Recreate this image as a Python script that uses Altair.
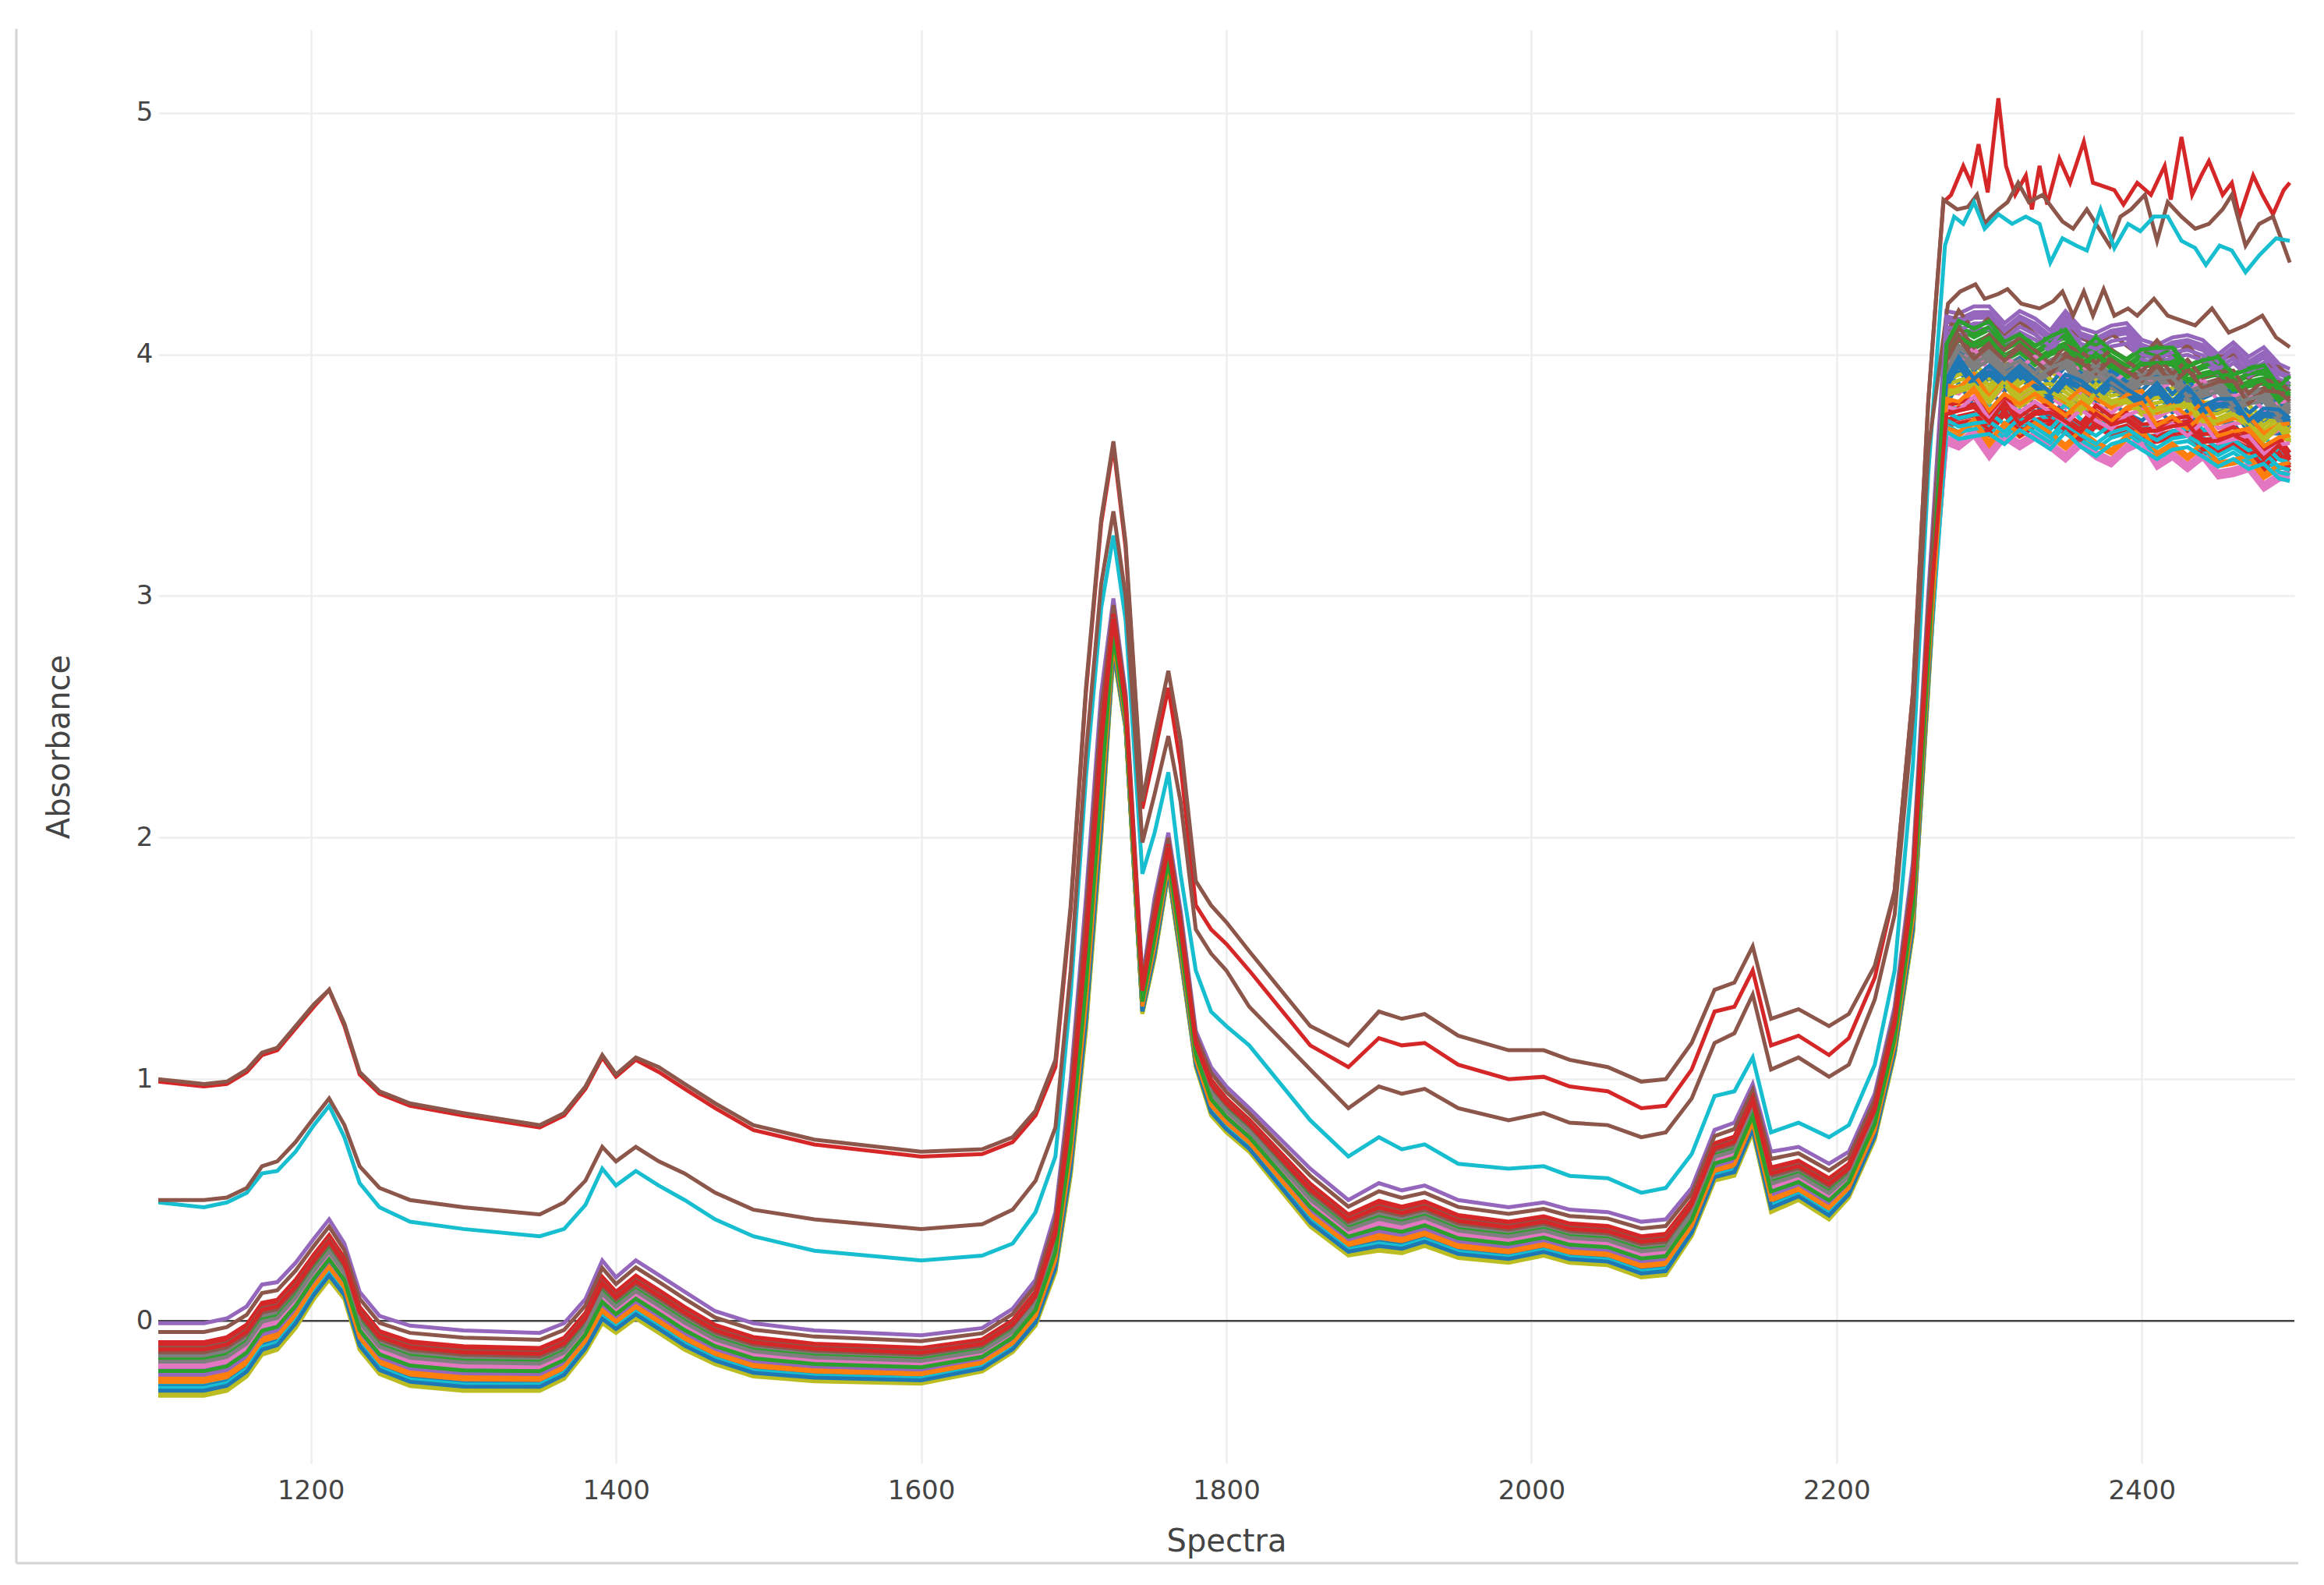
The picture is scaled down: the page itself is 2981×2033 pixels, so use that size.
import altair as alt
import pandas as pd

# ---------------- data ----------------
wl_low = [1100, 1130, 1145, 1158, 1168, 1178, 1190, 1202, 1212, 1222,
          1232, 1245, 1265, 1300, 1350, 1366, 1380, 1391, 1400, 1413,
          1428, 1445, 1465, 1490, 1530, 1600, 1640, 1660, 1675, 1688,
          1698, 1708, 1718, 1726, 1734, 1745, 1753, 1762, 1770, 1780,
          1790, 1800, 1815, 1855, 1880, 1900, 1915, 1930, 1952, 1985,
          2008, 2025, 2050, 2072, 2088, 2105, 2120, 2133, 2145, 2157,
          2175, 2195, 2208, 2225, 2238, 2250, 2260]

red_low = [0.99, 0.97, 0.98, 1.03, 1.10, 1.12, 1.21, 1.30, 1.37, 1.22,
           1.02, 0.94, 0.89, 0.85, 0.80, 0.85, 0.96, 1.09, 1.01, 1.08,
           1.03, 0.96, 0.88, 0.79, 0.73, 0.68, 0.69, 0.74, 0.85, 1.05,
           1.70, 2.60, 3.30, 3.62, 3.20, 2.12, 2.35, 2.62, 2.30, 1.72,
           1.62, 1.56, 1.45, 1.14, 1.05, 1.17, 1.14, 1.15, 1.06, 1.00,
           1.01, 0.97, 0.95, 0.88, 0.89, 1.04, 1.28, 1.30, 1.45, 1.14,
           1.18, 1.10, 1.17, 1.42, 1.78, 2.60, 3.80]

brown_top_low = [1.00, 0.98, 0.99, 1.04, 1.11, 1.13, 1.22, 1.31, 1.37, 1.23,
                 1.03, 0.95, 0.90, 0.86, 0.81, 0.86, 0.97, 1.10, 1.02, 1.09,
                 1.05, 0.98, 0.90, 0.81, 0.75, 0.70, 0.71, 0.76, 0.87, 1.08,
                 1.72, 2.62, 3.32, 3.64, 3.22, 2.15, 2.42, 2.69, 2.40, 1.82,
                 1.72, 1.65, 1.53, 1.22, 1.14, 1.28, 1.25, 1.27, 1.18, 1.12,
                 1.12, 1.08, 1.05, 0.99, 1.00, 1.15, 1.37, 1.40, 1.55, 1.25,
                 1.29, 1.22, 1.27, 1.47, 1.78, 2.60, 3.80]

brown_mid_low = [0.50, 0.50, 0.51, 0.55, 0.64, 0.66, 0.74, 0.84, 0.92, 0.81,
                 0.64, 0.55, 0.50, 0.47, 0.44, 0.49, 0.58, 0.72, 0.66, 0.72,
                 0.66, 0.61, 0.53, 0.46, 0.42, 0.38, 0.40, 0.46, 0.58, 0.80,
                 1.45, 2.35, 3.05, 3.35, 3.00, 1.98, 2.18, 2.42, 2.15, 1.62,
                 1.52, 1.45, 1.30, 1.04, 0.88, 0.97, 0.94, 0.96, 0.88, 0.83,
                 0.86, 0.82, 0.81, 0.76, 0.78, 0.92, 1.15, 1.19, 1.35, 1.04,
                 1.09, 1.01, 1.06, 1.33, 1.68, 2.50, 3.60]

cyan_low = [0.49, 0.47, 0.49, 0.53, 0.61, 0.62, 0.70, 0.81, 0.89, 0.76,
            0.57, 0.47, 0.41, 0.38, 0.35, 0.38, 0.48, 0.63, 0.56, 0.62,
            0.56, 0.50, 0.42, 0.35, 0.29, 0.25, 0.27, 0.32, 0.45, 0.68,
            1.35, 2.25, 2.95, 3.25, 2.90, 1.85, 2.02, 2.27, 1.85, 1.45,
            1.28, 1.22, 1.14, 0.83, 0.68, 0.76, 0.71, 0.73, 0.65, 0.63,
            0.64, 0.60, 0.59, 0.53, 0.55, 0.69, 0.93, 0.95, 1.09, 0.78,
            0.82, 0.76, 0.81, 1.06, 1.45, 2.30, 3.50]

bundle_top_low = [-0.01, -0.01, 0.01, 0.06, 0.15, 0.16, 0.24, 0.34, 0.42, 0.32,
                  0.12, 0.02, -0.02, -0.04, -0.05, -0.01, 0.09, 0.25, 0.18, 0.25,
                  0.19, 0.12, 0.04, -0.01, -0.04, -0.06, -0.03, 0.05, 0.17, 0.45,
                  1.00, 1.75, 2.60, 2.99, 2.60, 1.42, 1.75, 2.02, 1.70, 1.20,
                  1.05, 0.97, 0.88, 0.63, 0.50, 0.57, 0.54, 0.56, 0.50, 0.47,
                  0.49, 0.46, 0.45, 0.41, 0.42, 0.55, 0.79, 0.82, 0.98, 0.70,
                  0.72, 0.65, 0.70, 0.94, 1.30, 1.90, 3.00]

bundle_bottom_low = [-0.31, -0.31, -0.29, -0.23, -0.14, -0.12, -0.03, 0.09, 0.17, 0.09,
                     -0.12, -0.22, -0.27, -0.29, -0.29, -0.24, -0.13, -0.01, -0.05, 0.01,
                     -0.05, -0.12, -0.18, -0.23, -0.25, -0.26, -0.21, -0.13, -0.02, 0.20,
                     0.60, 1.20, 2.00, 2.76, 2.45, 1.27, 1.50, 1.85, 1.50, 1.05,
                     0.85, 0.78, 0.70, 0.39, 0.27, 0.29, 0.28, 0.31, 0.26, 0.24,
                     0.27, 0.24, 0.23, 0.18, 0.19, 0.35, 0.58, 0.60, 0.78, 0.45,
                     0.50, 0.42, 0.51, 0.75, 1.10, 1.60, 2.60]

# plateau (2270-2500) of the outlying spectra
red_px = [2270, 2275, 2283, 2288, 2293, 2299, 2306, 2311, 2317, 2324,
          2328, 2333, 2338, 2346, 2353, 2362, 2368, 2373, 2382, 2388,
          2397, 2406, 2415, 2419, 2426, 2433, 2439, 2444, 2453, 2459,
          2464, 2473, 2479, 2486, 2493, 2497]
red_py = [4.63, 4.66, 4.78, 4.71, 4.87, 4.67, 5.06, 4.78, 4.66, 4.74,
          4.60, 4.78, 4.62, 4.81, 4.71, 4.88, 4.71, 4.70, 4.68, 4.62,
          4.71, 4.66, 4.78, 4.64, 4.90, 4.66, 4.74, 4.80, 4.66, 4.71,
          4.57, 4.74, 4.66, 4.58, 4.68, 4.71]

brown_top_px = [2270, 2279, 2286, 2292, 2297, 2301, 2306, 2312, 2319, 2326,
                2335, 2342, 2348, 2355, 2364, 2370, 2379, 2386, 2393, 2402,
                2410, 2417, 2426, 2435, 2444, 2453, 2459, 2468, 2477, 2486,
                2493, 2497]
brown_top_py = [4.64, 4.60, 4.61, 4.66, 4.54, 4.57, 4.60, 4.63, 4.71, 4.63,
                4.66, 4.60, 4.55, 4.52, 4.60, 4.54, 4.45, 4.57, 4.60, 4.66,
                4.47, 4.63, 4.57, 4.52, 4.54, 4.60, 4.66, 4.45, 4.54, 4.57,
                4.45, 4.38]

cyan_px = [2271, 2277, 2283, 2290, 2297, 2306, 2315, 2324, 2333, 2340,
           2348, 2357, 2364, 2373, 2382, 2391, 2399, 2408, 2417, 2426,
           2435, 2442, 2451, 2459, 2468, 2477, 2488, 2497]
cyan_py = [4.45, 4.57, 4.54, 4.63, 4.52, 4.58, 4.54, 4.57, 4.54, 4.38,
           4.48, 4.45, 4.43, 4.60, 4.44, 4.54, 4.51, 4.57, 4.57, 4.47,
           4.44, 4.37, 4.45, 4.43, 4.34, 4.41, 4.48, 4.47]

brown_mid_px = [2273, 2281, 2291, 2297, 2306, 2312, 2321, 2333, 2342, 2348,
                2355, 2362, 2368, 2375, 2382, 2391, 2397, 2408, 2417, 2426,
                2435, 2446, 2457, 2468, 2479, 2488, 2497]
brown_mid_py = [4.21, 4.26, 4.29, 4.23, 4.25, 4.27, 4.21, 4.19, 4.22, 4.26,
                4.16, 4.26, 4.16, 4.27, 4.16, 4.19, 4.16, 4.23, 4.16, 4.14,
                4.12, 4.19, 4.09, 4.12, 4.16, 4.07, 4.03]

# plateau envelope of the main bundle
wl_plateau = [2272, 2280, 2290, 2300, 2310, 2320, 2330, 2340, 2350, 2360,
              2370, 2380, 2390, 2400, 2410, 2420, 2430, 2440, 2450, 2460,
              2470, 2480, 2490, 2497]
plateau_top = [4.15, 4.20, 4.20, 4.18, 4.17, 4.15, 4.15, 4.13, 4.14, 4.12,
               4.13, 4.10, 4.10, 4.08, 4.08, 4.06, 4.05, 4.06, 4.03, 4.03,
               4.00, 4.00, 3.98, 3.97]
plateau_bottom = [3.60, 3.63, 3.61, 3.60, 3.62, 3.61, 3.60, 3.59, 3.59, 3.58,
                  3.57, 3.56, 3.57, 3.58, 3.56, 3.55, 3.54, 3.53, 3.52, 3.50,
                  3.49, 3.47, 3.46, 3.46]
plateau_wiggle = [
    [0.00, 0.05, -0.03, 0.04, -0.02, 0.05, 0.00, -0.04, 0.03, 0.02, -0.03, 0.05,
     0.00, -0.03, 0.04, -0.02, 0.05, -0.03, 0.02, 0.03, -0.04, 0.02, 0.03, 0.00],
    [0.03, -0.02, 0.05, -0.03, 0.03, 0.00, 0.05, 0.02, -0.03, 0.04, 0.00, -0.02,
     0.03, 0.05, -0.03, 0.02, -0.02, 0.04, -0.03, 0.00, 0.03, -0.03, 0.02, 0.03],
    [-0.02, 0.03, 0.00, 0.05, -0.03, 0.02, -0.03, 0.03, 0.05, -0.02, 0.03, 0.00,
     -0.04, 0.02, 0.03, 0.05, -0.02, 0.00, 0.04, -0.03, 0.02, 0.04, -0.03, 0.02],
    [0.02, 0.00, 0.03, -0.02, 0.05, -0.03, 0.02, 0.04, 0.00, -0.03, 0.05, 0.02,
     0.03, -0.02, 0.00, 0.03, 0.05, -0.02, 0.00, 0.04, 0.02, -0.03, 0.04, -0.02],
    [0.04, -0.02, 0.01, 0.03, -0.03, 0.04, 0.01, -0.02, 0.05, 0.00, -0.03, 0.03,
     0.04, -0.01, -0.03, 0.02, 0.04, 0.01, -0.02, 0.03, 0.00, 0.04, -0.01, -0.02],
]

# trace numbers of the four outlying spectra
special_traces = {3: (red_low, red_px, red_py),
                  5: (brown_top_low, brown_top_px, brown_top_py),
                  9: (cyan_low, cyan_px, cyan_py),
                  15: (brown_mid_low, brown_mid_px, brown_mid_py)}

# position of each bundle spectrum inside the bundle (0 = lowest, 1 = highest)
bundle_traces = [0, 1, 2, 4, 6, 7, 8, 10, 11, 12, 13, 14, 16, 17, 18, 19, 20, 21, 22, 23,
                 24, 25, 26, 27, 28, 29, 30, 31, 32, 33, 34, 35, 36, 37, 38, 39, 40, 41, 42, 43,
                 44, 45, 46, 47, 48, 49, 50, 51, 52, 53, 54, 55, 56, 57, 58, 59, 60, 61, 62, 63]
bundle_low_pos = [0.55, 0.30, 0.62, 1.00, 0.45, 0.70, 0.12, 0.40, 0.22, 0.58,
                  0.74, 0.50, 0.35, 0.66, 0.05, 0.28, 0.18, 0.33, 0.48, 0.68,
                  0.42, 0.88, 0.38, 0.52, 0.08, 0.25, 0.15, 0.27, 0.60, 0.72,
                  0.36, 0.64, 0.44, 0.56, 0.02, 0.20, 0.10, 0.24, 0.46, 0.70,
                  0.32, 0.66, 0.40, 0.54, 0.00, 0.16, 0.13, 0.19, 0.50, 0.62,
                  0.29, 0.60, 0.42, 0.47, 0.04, 0.11, 0.07, 0.21, 0.34, 0.64]
bundle_plateau_pos = [0.45, 0.04, 0.70, 0.98, 0.05, 0.62, 0.55, 0.35, 0.40, 0.78,
                      0.20, 0.90, 0.40, 0.66, 0.50, 0.28, 0.60, 0.09, 0.85, 0.15,
                      0.94, 0.88, 0.02, 0.58, 0.46, 0.12, 0.52, 0.32, 0.74, 0.18,
                      0.82, 0.70, 0.62, 0.64, 0.42, 0.22, 0.48, 0.12, 0.80, 0.26,
                      0.86, 0.76, 0.00, 0.56, 0.38, 0.16, 0.50, 0.44, 0.72, 0.30,
                      0.92, 0.68, 0.28, 0.60, 0.40, 0.07, 0.54, 0.34, 0.84, 0.24]

palette = ["#1f77b4", "#ff7f0e", "#2ca02c", "#d62728", "#9467bd",
           "#8c564b", "#e377c2", "#7f7f7f", "#bcbd22", "#17becf"]

x_ticks = [1200, 1400, 1600, 1800, 2000, 2200, 2400]
y_ticks = [0, 1, 2, 3, 4, 5]

# ---------------- build the long table ----------------
rows = []
names, colors = [], []
for tid in range(64):
    name = f"s{tid:02d}"
    names.append(name)
    colors.append(palette[tid % 10])
    if tid in special_traces:
        low, px, py = special_traces[tid]
        xs = wl_low + px
        ys = low + py
    else:
        k = bundle_traces.index(tid)
        g = bundle_low_pos[k]
        f = bundle_plateau_pos[k]
        w = plateau_wiggle[tid % 5]
        ys_low = [b + g * (t - b) for t, b in zip(bundle_top_low, bundle_bottom_low)]
        ys_pl = [b + f * (t - b) + ww for t, b, ww in zip(plateau_top, plateau_bottom, w)]
        xs = wl_low + wl_plateau
        ys = ys_low + ys_pl
    for i, (x, y) in enumerate(zip(xs, ys)):
        rows.append({"trace": name, "pt": i, "wl": x, "absorbance": y})

df = pd.DataFrame(rows)

x_scale = alt.Scale(domain=[1100, 2500], nice=False, zero=False)
y_scale = alt.Scale(domain=[-0.59, 5.344], nice=False, zero=False)

x_axis = alt.Axis(values=x_ticks, format="d", title="Spectra", labelPadding=18, titleY=100,
                  titleBaseline="middle", grid=True)
y_axis = alt.Axis(values=y_ticks, format="d", title="Absorbance", labelPadding=7, titleX=-127,
                  titleY=919.5, titleBaseline="middle", grid=True)

zero_df = pd.DataFrame({"wl": [1100, 2500], "absorbance": [0, 0]})
zero_line = alt.Chart(zero_df).mark_line(color="#444444", strokeWidth=2.5).encode(
    x=alt.X("wl:Q", scale=x_scale, axis=x_axis),
    y=alt.Y("absorbance:Q", scale=y_scale, axis=y_axis),
)

lines = alt.Chart(df).mark_line(strokeWidth=5, clip=True).encode(
    x=alt.X("wl:Q", scale=x_scale, axis=x_axis),
    y=alt.Y("absorbance:Q", scale=y_scale, axis=y_axis),
    color=alt.Color("trace:N", scale=alt.Scale(domain=names, range=colors), legend=None),
    order=alt.Order("pt:Q"),
)

frame_df = pd.DataFrame({"k": [0]})
frame_left = alt.Chart(frame_df).mark_rule(color="#d4d4d4", strokeWidth=3).encode(
    x=alt.value(-182), y=alt.value(-1), y2=alt.value(1967))
frame_bottom = alt.Chart(frame_df).mark_rule(color="#d4d4d4", strokeWidth=3).encode(
    x=alt.value(-182), x2=alt.value(2745), y=alt.value(1967))

chart = alt.layer(zero_line, lines, frame_left, frame_bottom).properties(
    width=2740, height=1839,
    padding={"left": 195, "top": 30, "right": 20, "bottom": 150},
    autosize=alt.AutoSizeParams(type="none"),
).configure_axis(
    labelFont="DejaVu Sans", titleFont="DejaVu Sans",
    labelFontSize=34, titleFontSize=40,
    labelColor="#444444", titleColor="#444444", titleFontWeight="normal",
    domain=False, ticks=False, gridColor="#eeeeee", gridWidth=2.5,
).configure_view(strokeWidth=0)

chart.save("out.html", embed_options={"renderer": "svg", "actions": False})
